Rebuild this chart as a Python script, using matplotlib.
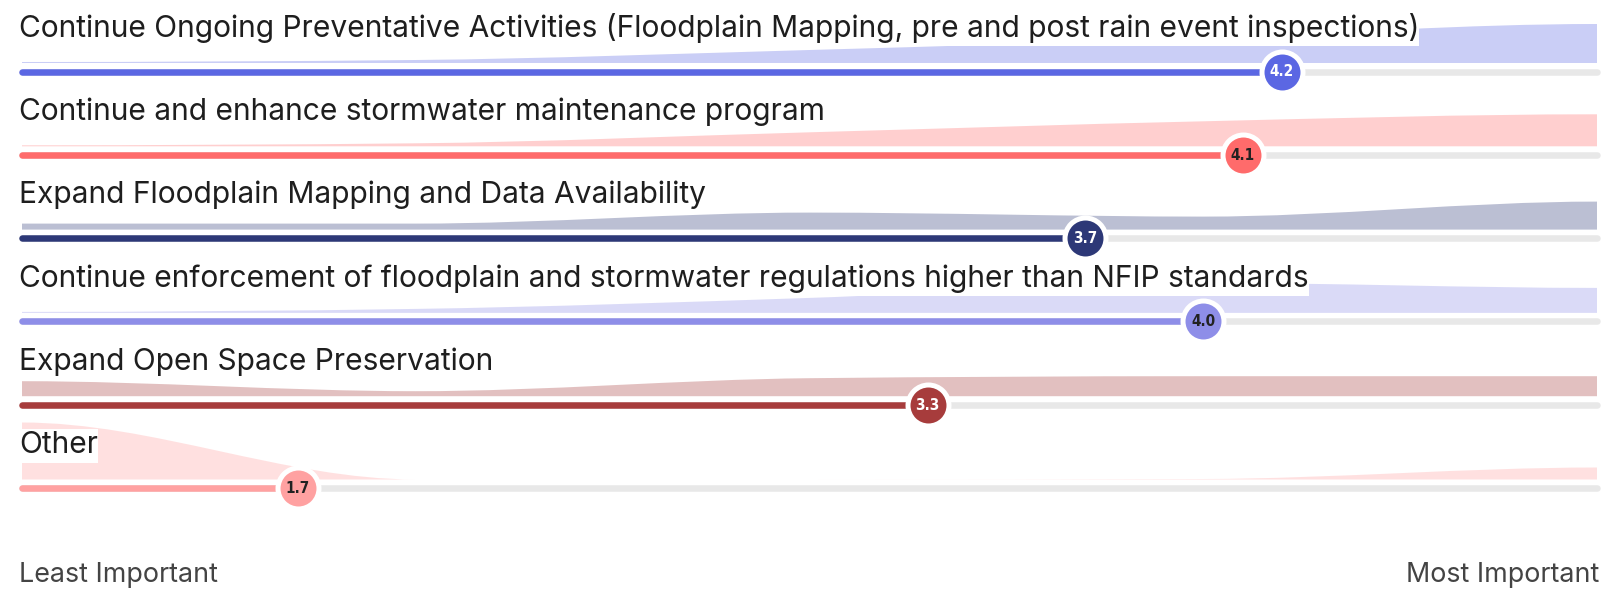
import numpy as np
import matplotlib
matplotlib.use("Agg")
import matplotlib.pyplot as plt
from matplotlib.path import Path
from matplotlib.patches import PathPatch, Rectangle

# ---------------- data ----------------
categories = [
    "Continue Ongoing Preventative Activities (Floodplain Mapping, pre and post rain event inspections)",
    "Continue and enhance stormwater maintenance program",
    "Expand Floodplain Mapping and Data Availability",
    "Continue enforcement of floodplain and stormwater regulations higher than NFIP standards",
    "Expand Open Space Preservation",
    "Other",
]
means = [4.2, 4.1, 3.7, 4.0, 3.3, 1.7]
ratings = [1, 2, 3, 4, 5]
# response distribution per rating (relative counts)
dist_1 = [1, 3, 13, 25, 39]
dist_2 = [1, 3, 14, 25, 32]
dist_3 = [6, 6, 17, 13, 28]
dist_4 = [1, 4, 15, 30, 25]
dist_5 = [15, 5, 18, 20, 20]
dist_6 = [57, 0, 0, 0.5, 12]
distributions = [dist_1, dist_2, dist_3, dist_4, dist_5, dist_6]
scale_labels = ["Least Important", "Most Important"]

# ---------------- style ----------------
bar_colors = ["#5b67e3", "#ff6b6b", "#2d3877", "#8e8ee8", "#a73c3c", "#ffa1a1"]
value_text_colors = ["white", "#222222", "white", "#222222", "white", "#222222"]
area_alpha = 0.32
track_color = "#e8e8e8"
title_color = "#1e1e1e"

W, H = 1607, 599
fig = plt.figure(figsize=(W / 100, H / 100), dpi=100)
ax = fig.add_axes([0, 0, 1, 1])
PX1, PX5 = 22.0, 1597.0
unit = (PX5 - PX1) / 4.0
ax.set_xlim(1 - PX1 / unit, 1 + (W - PX1) / unit)
ax.set_ylim(H, 0)
ax.axis("off")


def px2x(px):
    return 1 + (px - PX1) / unit


track_y0 = 71.5
row_step = 83.3
area_gap = 8.5       # from track centre to area baseline
height_scale = 1.0   # px per count unit
track_lw = 6.5 * 0.72


def mono_tangents(x, y):
    x = np.asarray(x, float)
    y = np.asarray(y, float)
    n = len(x)
    h = np.diff(x)
    s = np.diff(y) / h
    m = np.zeros(n)
    for i in range(1, n - 1):
        p = (s[i - 1] * h[i] + s[i] * h[i - 1]) / (h[i - 1] + h[i])
        sg = (np.sign(s[i - 1]) if s[i - 1] != 0 else 1) + (np.sign(s[i]) if s[i] != 0 else 1)
        m[i] = sg * min(abs(s[i - 1]), abs(s[i]), 0.5 * abs(p))
    return m


renderer = fig.canvas.get_renderer()
TFAM = ["Inter", "DejaVu Sans"]

# fit title font size to reference width
probe = ax.text(0, 0, categories[0], fontsize=20, family=TFAM)
wpx = probe.get_window_extent(renderer).width
probe.remove()
title_fs = 20 * 1404.0 / wpx
title_px = title_fs / 72 * 100

for i, (cat, mean, dist, col) in enumerate(zip(categories, means, distributions, bar_colors)):
    ty = track_y0 + i * row_step
    base = ty - area_gap
    hv = np.asarray(dist, float) * height_scale
    yv = base - hv
    m = mono_tangents(ratings, yv)
    verts = [(ratings[0], base), (ratings[0], yv[0])]
    codes = [Path.MOVETO, Path.LINETO]
    for k in range(len(ratings) - 1):
        dx = ratings[k + 1] - ratings[k]
        verts += [(ratings[k] + dx / 3, yv[k] + m[k] * dx / 3),
                  (ratings[k + 1] - dx / 3, yv[k + 1] - m[k + 1] * dx / 3),
                  (ratings[k + 1], yv[k + 1])]
        codes += [Path.CURVE4] * 3
    verts += [(ratings[-1], base), (ratings[0], base)]
    codes += [Path.LINETO, Path.CLOSEPOLY]
    ax.add_patch(PathPatch(Path(verts, codes), facecolor=col, alpha=area_alpha,
                           edgecolor="none", zorder=1))

    # title with white background box
    baseline = 36.7 + i * row_step
    t = ax.text(px2x(19), baseline, cat, fontsize=title_fs, color=title_color,
                family=TFAM, va="baseline", ha="left", zorder=3)
    bb = t.get_window_extent(renderer).transformed(ax.transData.inverted())
    x0, x1 = min(bb.x0, bb.x1), max(bb.x0, bb.x1)
    ytop = baseline - 0.8 * title_px
    ybot = baseline + 9.5
    ax.add_patch(Rectangle((x0, ytop), x1 - x0, ybot - ytop,
                           facecolor="white", edgecolor="none", zorder=2))

    # track & bar
    ax.plot([ratings[0], ratings[-1]], [ty, ty], color=track_color, lw=track_lw,
            solid_capstyle="round", zorder=4)
    ax.plot([ratings[0], mean], [ty, ty], color=col, lw=track_lw,
            solid_capstyle="round", zorder=5)
    ax.plot([mean], [ty], marker="o", ms=29.5, mew=3.6, mfc=col, mec="white", zorder=6)
    ax.text(mean, ty + 0.5, f"{mean:.1f}", ha="center", va="center", fontsize=11,
            fontweight="bold", fontstretch="condensed", color=value_text_colors[i],
            family=["DejaVu Sans"], zorder=7)

# scale labels (fit width to reference)
for lab, px, ha, target in [(scale_labels[0], 19, "left", 199.0),
                            (scale_labels[1], 1599, "right", 193.0)]:
    tt = ax.text(px2x(px), 582, lab, fontsize=16, color="#444444",
                 family=TFAM, ha=ha, va="baseline", zorder=3)
    w = tt.get_window_extent(renderer).width
    tt.set_fontsize(16 * target / w)

fig.savefig("out.png", dpi=100, facecolor="white")
